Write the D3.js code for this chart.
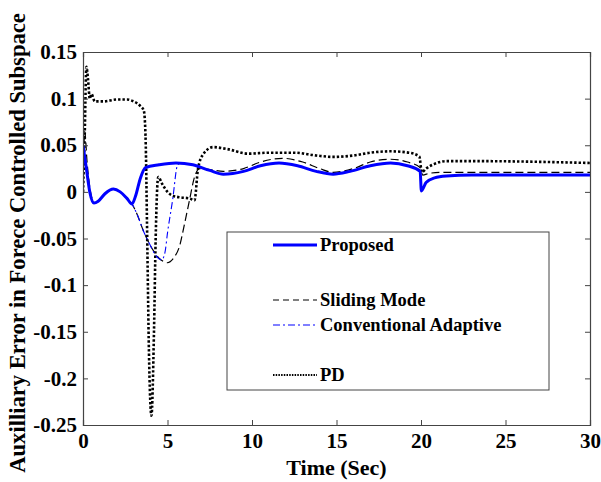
<!DOCTYPE html>
<html><head><meta charset="utf-8">
<script src="https://cdn.jsdelivr.net/npm/d3@7"></script>
<style>body{margin:0;background:#fff}svg{display:block}text{font-family:"Liberation Serif","Times New Roman",serif;font-weight:bold;fill:#000}</style>
</head><body><svg id="c" width="601" height="482"></svg>
<script>
const seriesNames = ["Proposed","Sliding Mode","Conventional Adaptive","PD"];
const xTicks = [0,5,10,15,20,25,30];
const yTicks = [-0.25,-0.2,-0.15,-0.1,-0.05,0,0.05,0.1,0.15];
const yTickLabels = ["-0.25","-0.2","-0.15","-0.1","-0.05","0","0.05","0.1","0.15"];

const proposedT = [0,0.2,0.4,0.65,0.9,1.3,1.8,2.2,2.6,2.9,3.1,3.4,3.7,4.5,5.5,6.5,7.5,8.3,9.5,10.5,11.6,12.7,13.8,14.8,15.8,17,18.2,19.2,19.95,20.02,20.3,20.8,21.5,23,30];
const proposedV = [0.05,0.025,0.0,-0.012,-0.01,-0.002,0.003,0.0,-0.007,-0.013,-0.005,0.015,0.026,0.029,0.031,0.029,0.023,0.019,0.022,0.028,0.031,0.028,0.022,0.019,0.022,0.028,0.031,0.028,0.022,0.001,0.01,0.015,0.017,0.018,0.018];

const slidingT = [0,0.1,0.25,0.5,0.7,0.9,1.3,1.8,2.2,2.6,2.9,3.2,3.6,4.0,4.5,5.0,5.4,5.7,6.0,6.3,6.6,6.9,7.5,8.3,9.5,10.5,11.8,13,14,14.8,16,17,18.2,19.2,19.95,20.1,20.5,21.5,30];
const slidingV = [0.0,0.065,0.03,-0.005,-0.012,-0.01,-0.002,0.003,0.0,-0.007,-0.013,-0.024,-0.043,-0.058,-0.071,-0.076,-0.07,-0.059,-0.035,-0.009,0.016,0.025,0.024,0.022,0.025,0.032,0.036,0.032,0.025,0.021,0.025,0.032,0.035,0.032,0.026,0.018,0.02,0.021,0.021];

const adaptiveT = [0,0.2,0.4,0.65,0.9,1.3,1.8,2.2,2.6,2.9,3.2,3.6,4.0,4.3,4.65,4.85,5.0,5.3,5.6,5.8,6.5,7.5,8.3,9.5,10.5,11.6,12.7,13.8,14.8,15.8,17,18.2,19.2,19.95,20.02,20.3,20.8,21.5,23,30];
const adaptiveV = [0.05,0.025,0.0,-0.012,-0.01,-0.002,0.003,0.0,-0.007,-0.013,-0.024,-0.043,-0.058,-0.068,-0.073,-0.065,-0.044,-0.009,0.029,0.031,0.029,0.023,0.019,0.022,0.028,0.031,0.028,0.022,0.019,0.022,0.028,0.031,0.028,0.022,0.001,0.01,0.015,0.017,0.018,0.018];

const pdT = [0,0.1,0.2,0.3,0.4,0.5,0.7,1.2,2.0,2.6,3.0,3.4,3.6,3.7,3.8,3.9,4.05,4.2,4.3,4.45,4.7,5.0,5.3,5.8,6.3,6.6,6.8,7.1,7.7,8.5,9.8,11,12.5,13.8,14.8,16,17,18.2,19.3,19.9,20.05,20.3,20.8,21.5,23,30];
const pdV = [0.0,0.06,0.134,0.12,0.1,0.105,0.097,0.097,0.099,0.099,0.097,0.092,0.087,0.06,-0.05,-0.17,-0.24,-0.15,-0.05,0.016,0.008,0.0,-0.004,-0.006,-0.007,-0.009,0.024,0.04,0.048,0.046,0.041,0.042,0.042,0.039,0.0375,0.039,0.042,0.0435,0.042,0.038,0.021,0.025,0.03,0.033,0.033,0.031];

const svg = d3.select("#c");
const L=83,R=590,T=52,B=425;
const x = d3.scaleLinear().domain([0,30]).range([L,R]);
const y = d3.scaleLinear().domain([-0.25,0.15]).range([B,T]);
const axisColor = "#444";

svg.append("clipPath").attr("id","cp").append("rect").attr("x",L).attr("y",T).attr("width",R-L).attr("height",B-T);

const line = d3.line().x(d=>x(d[0])).y(d=>y(d[1])).curve(d3.curveMonotoneX);
const zip = (a,b)=>a.map((t,i)=>[t,b[i]]);

const specs = [
  {t:pdT,v:pdV,color:"#000",w:2.6,dash:"2.4,2"},
  {t:slidingT,v:slidingV,color:"#000",w:1.2,dash:"8,4"},
  {t:proposedT,v:proposedV,color:"#0000ff",w:3,dash:null},
  {t:adaptiveT,v:adaptiveV,color:"#0000ff",w:1.1,dash:"7,3,2,3"},
];
const lines = svg.append("g").attr("clip-path","url(#cp)");
specs.forEach(s=>{
  lines.append("path").attr("d",line(zip(s.t,s.v))).attr("fill","none")
    .attr("stroke",s.color).attr("stroke-width",s.w).attr("stroke-dasharray",s.dash);
});

const xAxB = d3.axisBottom(x).tickValues(xTicks).tickSize(-5).tickPadding(8).tickFormat(d3.format("d"));
const xAxT = d3.axisTop(x).tickValues(xTicks).tickSize(-5).tickFormat("");
const yAxL = d3.axisLeft(y).tickValues(yTicks).tickSize(-5).tickPadding(6).tickFormat((d,i)=>yTickLabels[i]);
const yAxR = d3.axisRight(y).tickValues(yTicks).tickSize(-5).tickFormat("");
const axes = [
  svg.append("g").attr("transform",`translate(0,${B})`).call(xAxB),
  svg.append("g").attr("transform",`translate(0,${T})`).call(xAxT),
  svg.append("g").attr("transform",`translate(${L},0)`).call(yAxL),
  svg.append("g").attr("transform",`translate(${R},0)`).call(yAxR)
];
axes.forEach(a=>{
  a.attr("font-size",null).attr("font-family",null);
  a.selectAll(".domain").attr("stroke",axisColor).attr("stroke-width",1.2);
  a.selectAll(".tick line").attr("stroke",axisColor);
  a.selectAll("text").style("font-family","'Liberation Serif',serif").style("font-weight","bold").style("font-size","21px").attr("fill","#000");
});

const lg = svg.append("g");
lg.append("rect").attr("x",227).attr("y",232).attr("width",322).attr("height",158).attr("fill","#fff").attr("stroke",axisColor).attr("stroke-width",1);
const legY = [245,300,325,375];
const legSpec = [specs[2],specs[1],specs[3],specs[0]];
seriesNames.forEach((n,i)=>{
  const s = legSpec[i];
  lg.append("line").attr("x1",273).attr("x2",317).attr("y1",legY[i]).attr("y2",legY[i])
    .attr("stroke",s.color).attr("stroke-width",i===3?1.8:s.w).attr("stroke-dasharray",i===3?"1.5,1.2":(i===1?"6,4":s.dash));
  lg.append("text").attr("x",320).attr("y",legY[i]).attr("dy","0.35em").style("font-size","18.5px").text(n);
});

svg.append("text").attr("x",(L+R)/2).attr("y",475).attr("text-anchor","middle").style("font-size","22px").text("Time (Sec)");
svg.append("text").attr("transform",`translate(25,243) rotate(-90)`).attr("text-anchor","middle").style("font-size","22.6px").text("Auxilliary Error in Forece Controlled Subspace");
</script></body></html>
